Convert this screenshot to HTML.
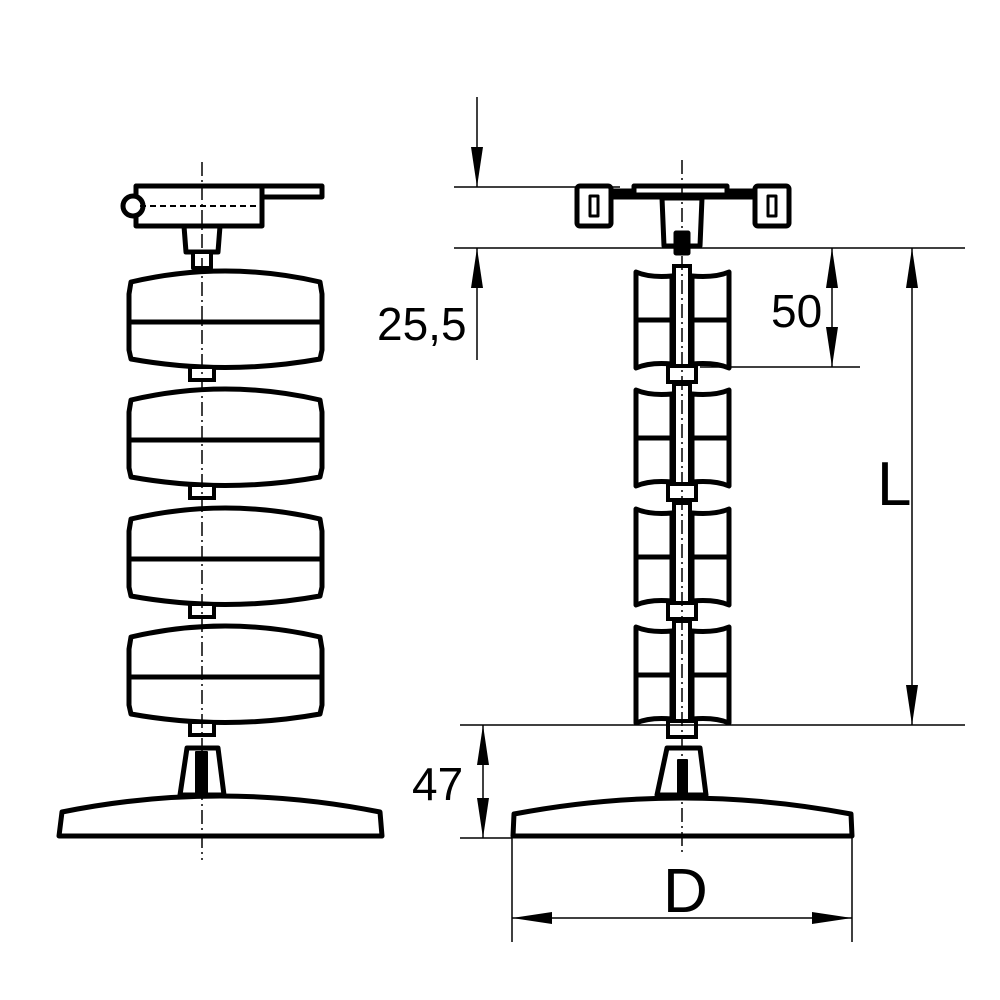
<!DOCTYPE html>
<html><head><style>html,body{margin:0;padding:0;background:#fff}svg{display:block}</style></head><body>
<svg width="1000" height="1000" viewBox="0 0 1000 1000" xmlns="http://www.w3.org/2000/svg">
<defs>
<g id="lroll">
<path d="M131,12 Q225,-10 320,12 L322,24 L322,80 L320,89 Q225,106 131,89 L129,80 L129,24 Z" fill="#fff" stroke="#000" stroke-width="5" stroke-linejoin="round"/>
<line x1="130" y1="52" x2="321" y2="52" stroke="#000" stroke-width="5"/>
<rect x="190" y="97" width="24" height="13" fill="#fff" stroke="#000" stroke-width="4"/>
</g>
<g id="rroll">
<path d="M636,2 Q650,8 672,6 L672,94 Q650,92 636,98 Z" fill="#fff" stroke="#000" stroke-width="5" stroke-linejoin="round"/>
<path d="M729,2 Q715,8 692,6 L692,94 Q715,92 729,98 Z" fill="#fff" stroke="#000" stroke-width="5" stroke-linejoin="round"/>
<line x1="636" y1="50" x2="729" y2="50" stroke="#000" stroke-width="5"/>
<rect x="674" y="-4" width="16" height="108" fill="#fff" stroke="#000" stroke-width="4"/>
<rect x="668" y="96" width="28" height="16" fill="#fff" stroke="#000" stroke-width="4"/>
</g>
<marker id="a" viewBox="0 0 40 12" refX="40" refY="6" markerWidth="40" markerHeight="12" markerUnits="userSpaceOnUse" orient="auto-start-reverse"><path d="M0,0 L40,6 L0,12 Z" fill="#000"/></marker>
</defs>

<!-- LEFT VIEW -->
<g stroke="#000" fill="#fff" stroke-width="5" stroke-linejoin="round">
<rect x="138" y="186" width="184" height="11"/>
<rect x="136" y="186" width="126" height="40"/>
<circle cx="133" cy="206" r="10"/>
<line x1="140" y1="206" x2="258" y2="206" stroke-width="2" stroke-dasharray="6 4"/>
<path d="M184,226 L220,226 L218,252 L186,252 Z"/>
<rect x="193" y="252" width="18" height="16" stroke-width="4"/>
</g>
<use href="#lroll" y="270"/>
<use href="#lroll" y="388"/>
<use href="#lroll" y="507"/>
<use href="#lroll" y="625"/>
<g stroke="#000" fill="#fff" stroke-width="5" stroke-linejoin="round">
<path d="M187,748 L218,748 L224,795 L180,795 Z"/>
<rect x="196" y="752" width="11" height="42" fill="#000" stroke-width="2"/>
<path d="M62,812 Q220,780 380,812 L382,836 L59,836 Z"/>
</g>
<line x1="202" y1="162" x2="202" y2="860" stroke="#000" stroke-width="1.5" stroke-dasharray="14 4 2 4"/>

<!-- RIGHT VIEW -->
<g stroke="#000" fill="#fff" stroke-width="5" stroke-linejoin="round">
<rect x="600" y="191" width="160" height="6" fill="#000"/>
<rect x="634" y="186" width="93" height="9"/>
<rect x="577" y="186" width="34" height="40" rx="3"/>
<rect x="755" y="186" width="34" height="40" rx="3"/>
<rect x="590" y="196" width="8" height="20" stroke-width="3"/>
<rect x="768" y="196" width="8" height="20" stroke-width="3"/>
<path d="M662,198 L702,198 L700,246 L664,246 Z"/>
<rect x="676" y="233" width="12" height="20" fill="#000"/>
</g>
<use href="#rroll" y="270"/>
<use href="#rroll" y="388"/>
<use href="#rroll" y="507"/>
<use href="#rroll" y="625"/>
<g stroke="#000" fill="#fff" stroke-width="5" stroke-linejoin="round">
<path d="M667,748 L700,748 L706,795 L657,795 Z"/>
<rect x="678" y="760" width="9" height="36" fill="#000" stroke-width="2"/>
<path d="M514,814 Q682,782 851,814 L852,836 L513,836 Z"/>
</g>
<line x1="682" y1="160" x2="682" y2="856" stroke="#000" stroke-width="1.5" stroke-dasharray="14 4 2 4"/>

<!-- DIMENSIONS -->
<g stroke="#000" stroke-width="1.5" fill="none">
<line x1="454" y1="187" x2="620" y2="187"/>
<line x1="454" y1="248" x2="965" y2="248"/>
<line x1="477" y1="97" x2="477" y2="187" marker-end="url(#a)"/>
<line x1="477" y1="360" x2="477" y2="248" marker-end="url(#a)"/>
<line x1="700" y1="367" x2="860" y2="367"/>
<line x1="832" y1="248" x2="832" y2="367" marker-start="url(#a)" marker-end="url(#a)"/>
<line x1="460" y1="725" x2="965" y2="725"/>
<line x1="912" y1="248" x2="912" y2="725" marker-start="url(#a)" marker-end="url(#a)"/>
<line x1="460" y1="838" x2="512" y2="838"/>
<line x1="483" y1="725" x2="483" y2="838" marker-start="url(#a)" marker-end="url(#a)"/>
<line x1="512" y1="838" x2="512" y2="942"/>
<line x1="852" y1="838" x2="852" y2="942"/>
<line x1="512" y1="918" x2="852" y2="918" marker-start="url(#a)" marker-end="url(#a)"/>
</g>
<g font-family="Liberation Sans, sans-serif" fill="#000">
<text x="377" y="340" font-size="46">25,5</text>
<text x="771" y="327" font-size="46">50</text>
<text x="412" y="800" font-size="46">47</text>
<text x="877" y="505" font-size="62">L</text>
<text x="663" y="912" font-size="62">D</text>
</g>
</svg>
</body></html>
